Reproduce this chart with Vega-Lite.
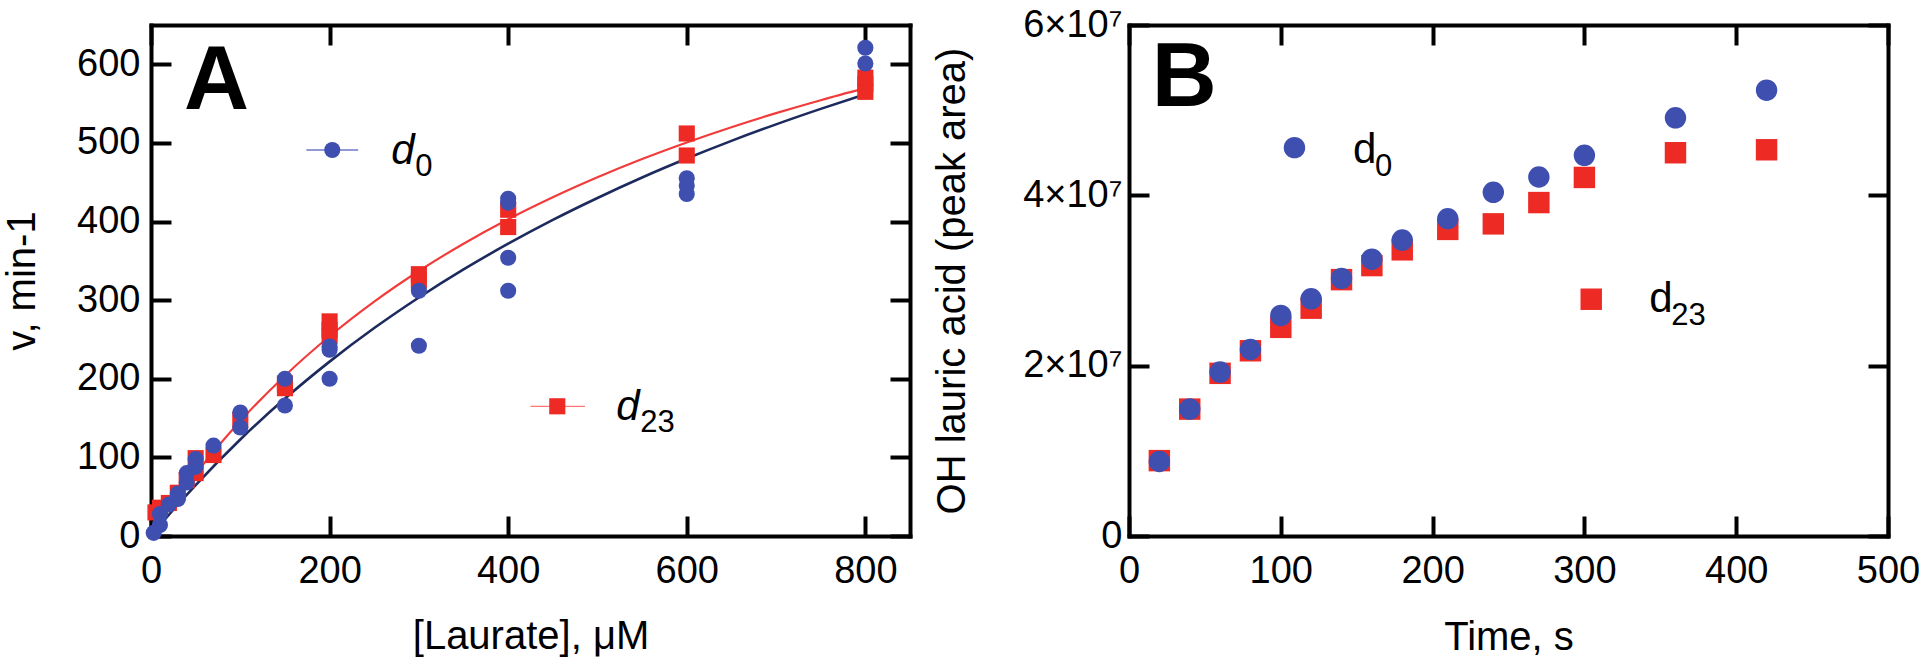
{
  "$schema": "https://vega.github.io/schema/vega-lite/v6.json",
  "padding": {"left": 2, "top": 6, "right": 0, "bottom": 0},
  "background": "white",
  "config": {
    "view": {"stroke": null},
    "font": "Liberation Sans",
    "axis": {
      "domainColor": "black", "domainWidth": 4, "domainCap": "square",
      "tickColor": "black", "tickWidth": 4, "tickSize": -20,
      "grid": false, "labelFont": "Liberation Sans", "labelFontSize": 38, "labelColor": "black",
      "labelFlush": false, "labelOverlap": false,
      "titleFont": "Liberation Sans", "titleFontSize": 40, "titleFontWeight": "normal", "titleColor": "black"
    }
  },
  "datasets": {
    "ptsA": [
      {"x": 5, "v": 30, "series": "d23"}, {"x": 10, "v": 36, "series": "d23"}, {"x": 20, "v": 42, "series": "d23"},
      {"x": 30, "v": 55, "series": "d23"}, {"x": 40, "v": 71, "series": "d23"}, {"x": 50, "v": 80, "series": "d23"},
      {"x": 50, "v": 99, "series": "d23"}, {"x": 70, "v": 103, "series": "d23"}, {"x": 100, "v": 148, "series": "d23"},
      {"x": 150, "v": 188, "series": "d23"}, {"x": 150, "v": 194, "series": "d23"}, {"x": 200, "v": 254, "series": "d23"},
      {"x": 200, "v": 262, "series": "d23"}, {"x": 200, "v": 273, "series": "d23"}, {"x": 300, "v": 325, "series": "d23"},
      {"x": 300, "v": 333, "series": "d23"}, {"x": 400, "v": 393, "series": "d23"}, {"x": 400, "v": 415, "series": "d23"},
      {"x": 600, "v": 484, "series": "d23"}, {"x": 600, "v": 512, "series": "d23"}, {"x": 800, "v": 565, "series": "d23"},
      {"x": 800, "v": 575, "series": "d23"}, {"x": 800, "v": 583, "series": "d23"},
      {"x": 3, "v": 4, "series": "d0"}, {"x": 10, "v": 14, "series": "d0"}, {"x": 10, "v": 28, "series": "d0"},
      {"x": 20, "v": 40, "series": "d0"}, {"x": 30, "v": 47, "series": "d0"}, {"x": 30, "v": 54, "series": "d0"},
      {"x": 40, "v": 68, "series": "d0"}, {"x": 40, "v": 80, "series": "d0"}, {"x": 50, "v": 88, "series": "d0"},
      {"x": 50, "v": 98, "series": "d0"}, {"x": 70, "v": 115, "series": "d0"}, {"x": 100, "v": 138, "series": "d0"},
      {"x": 100, "v": 157, "series": "d0"}, {"x": 150, "v": 166, "series": "d0"}, {"x": 150, "v": 200, "series": "d0"},
      {"x": 200, "v": 200, "series": "d0"}, {"x": 200, "v": 237, "series": "d0"}, {"x": 200, "v": 241, "series": "d0"},
      {"x": 300, "v": 242, "series": "d0"}, {"x": 300, "v": 312, "series": "d0"}, {"x": 400, "v": 312, "series": "d0"},
      {"x": 400, "v": 354, "series": "d0"}, {"x": 400, "v": 424, "series": "d0"}, {"x": 400, "v": 429, "series": "d0"},
      {"x": 600, "v": 435, "series": "d0"}, {"x": 600, "v": 446, "series": "d0"}, {"x": 600, "v": 455, "series": "d0"},
      {"x": 800, "v": 601, "series": "d0"}, {"x": 800, "v": 621, "series": "d0"}
    ],
    "curveA": [
      {"x": 0, "v": 0, "series": "d0"}, {"x": 25, "v": 33.4, "series": "d0"}, {"x": 50, "v": 64.8, "series": "d0"},
      {"x": 100, "v": 122.8, "series": "d0"}, {"x": 150, "v": 174.8, "series": "d0"}, {"x": 200, "v": 221.8, "series": "d0"},
      {"x": 250, "v": 264.5, "series": "d0"}, {"x": 300, "v": 303.4, "series": "d0"}, {"x": 350, "v": 339.1, "series": "d0"},
      {"x": 400, "v": 371.8, "series": "d0"}, {"x": 450, "v": 402.1, "series": "d0"}, {"x": 500, "v": 430.0, "series": "d0"},
      {"x": 550, "v": 456.0, "series": "d0"}, {"x": 600, "v": 480.1, "series": "d0"}, {"x": 650, "v": 502.6, "series": "d0"},
      {"x": 700, "v": 523.6, "series": "d0"}, {"x": 750, "v": 543.3, "series": "d0"}, {"x": 800, "v": 561.9, "series": "d0"},
      {"x": 0, "v": 0, "series": "d23"}, {"x": 25, "v": 41.2, "series": "d23"}, {"x": 50, "v": 79.0, "series": "d23"},
      {"x": 100, "v": 146.2, "series": "d23"}, {"x": 150, "v": 203.9, "series": "d23"}, {"x": 200, "v": 254.1, "series": "d23"},
      {"x": 250, "v": 298.2, "series": "d23"}, {"x": 300, "v": 337.1, "series": "d23"}, {"x": 350, "v": 371.8, "series": "d23"},
      {"x": 400, "v": 402.9, "series": "d23"}, {"x": 450, "v": 430.9, "series": "d23"}, {"x": 500, "v": 456.3, "series": "d23"},
      {"x": 550, "v": 479.5, "series": "d23"}, {"x": 600, "v": 500.6, "series": "d23"}, {"x": 650, "v": 520.0, "series": "d23"},
      {"x": 700, "v": 537.9, "series": "d23"}, {"x": 750, "v": 554.4, "series": "d23"}, {"x": 800, "v": 569.7, "series": "d23"}
    ],
    "legA": [
      {"series": "d0", "lseries": "L0", "lx1": 174, "lx2": 232, "mx": 203, "my": 491, "tx": 269, "ty": 473, "label": "d", "sub": "0"},
      {"series": "d23", "lseries": "L23", "lx1": 425, "lx2": 486, "mx": 455, "my": 165, "tx": 521, "ty": 147, "label": "d", "sub": "23"}
    ],
    "tagA": [{"x": 37, "v": 543, "label": "A"}],
    "ptsB": [
      {"t": 20, "y": 8850000, "series": "d23"}, {"t": 40, "y": 14900000, "series": "d23"}, {"t": 60, "y": 19100000, "series": "d23"},
      {"t": 80, "y": 21750000, "series": "d23"}, {"t": 100, "y": 24500000, "series": "d23"}, {"t": 120, "y": 26750000, "series": "d23"},
      {"t": 140, "y": 30100000, "series": "d23"}, {"t": 160, "y": 31750000, "series": "d23"}, {"t": 180, "y": 33600000, "series": "d23"},
      {"t": 210, "y": 36000000, "series": "d23"}, {"t": 240, "y": 36650000, "series": "d23"}, {"t": 270, "y": 39150000, "series": "d23"},
      {"t": 300, "y": 42100000, "series": "d23"}, {"t": 360, "y": 45000000, "series": "d23"}, {"t": 420, "y": 45350000, "series": "d23"},
      {"t": 20, "y": 8750000, "series": "d0"}, {"t": 40, "y": 14900000, "series": "d0"}, {"t": 60, "y": 19250000, "series": "d0"},
      {"t": 80, "y": 21900000, "series": "d0"}, {"t": 100, "y": 25900000, "series": "d0"}, {"t": 120, "y": 27850000, "series": "d0"},
      {"t": 140, "y": 30250000, "series": "d0"}, {"t": 160, "y": 32500000, "series": "d0"}, {"t": 180, "y": 34750000, "series": "d0"},
      {"t": 210, "y": 37250000, "series": "d0"}, {"t": 240, "y": 40350000, "series": "d0"}, {"t": 270, "y": 42150000, "series": "d0"},
      {"t": 300, "y": 44700000, "series": "d0"}, {"t": 360, "y": 49100000, "series": "d0"}, {"t": 420, "y": 52350000, "series": "d0"}
    ],
    "legB": [
      {"series": "d0", "mx": 109, "my": 45600000, "tx": 147.6, "ty": 43800000, "label": "d", "sub": "0"},
      {"series": "d23", "mx": 304.5, "my": 27800000, "tx": 342.7, "ty": 26300000, "label": "d", "sub": "23"}
    ],
    "tagB": [{"t": 15, "y": 50500000, "label": "B"}]
  },
  "hconcat": [
    {
      "width": 759,
      "height": 511,
      "layer": [
        {
          "data": {"name": "curveA"},
          "mark": {"type": "line", "interpolate": "monotone"},
          "encoding": {
            "x": {"field": "x", "type": "quantitative", "scale": {"domain": [0, 850], "nice": false, "zero": false},
                  "axis": {"orient": "bottom", "title": "[Laurate], μM", "values": [0, 200, 400, 600, 800], "labelPadding": 36, "titlePadding": 26}},
            "y": {"field": "v", "type": "quantitative", "scale": {"domain": [0, 650], "nice": false},
                  "axis": {"orient": "left", "title": "v, min-1", "values": [0, 100, 200, 300, 400, 500, 600], "labelPadding": 31, "titlePadding": 34}},
            "stroke": {"field": "series", "type": "nominal", "scale": {"domain": ["d0", "d23", "L0", "L23"], "range": ["#1D2A5E", "#F23B3B", "#6D79C9", "#FF7777"]}, "legend": null},
            "strokeWidth": {"field": "series", "type": "nominal", "scale": {"domain": ["d0", "d23", "L0", "L23"], "range": [2.6, 1.2, 2, 2]}, "legend": null}
          }
        },
        {
          "data": {"name": "ptsA"},
          "mark": {"type": "point", "filled": true, "opacity": 1, "size": 260},
          "encoding": {
            "x": {"field": "x", "type": "quantitative", "axis": null},
            "y": {"field": "v", "type": "quantitative", "axis": null},
            "fill": {"field": "series", "type": "nominal", "scale": {"domain": ["d0", "d23"], "range": ["#3F4FB0", "#EE2A25"]}, "legend": null},
            "shape": {"field": "series", "type": "nominal", "scale": {"domain": ["d0", "d23"], "range": ["circle", "square"]}, "legend": null}
          }
        },
        {
          "data": {"name": "legA"},
          "mark": {"type": "rule"},
          "encoding": {
            "x": {"field": "lx1", "type": "quantitative", "axis": null},
            "x2": {"field": "lx2"},
            "y": {"field": "my", "type": "quantitative", "axis": null},
            "stroke": {"field": "lseries", "type": "nominal", "legend": null},
            "strokeWidth": {"field": "lseries", "type": "nominal", "legend": null}
          }
        },
        {
          "data": {"name": "legA"},
          "mark": {"type": "point", "filled": true, "opacity": 1, "size": 260},
          "encoding": {
            "x": {"field": "mx", "type": "quantitative", "axis": null},
            "y": {"field": "my", "type": "quantitative", "axis": null},
            "fill": {"field": "series", "type": "nominal", "legend": null},
            "shape": {"field": "series", "type": "nominal", "legend": null}
          }
        },
        {
          "data": {"name": "legA"},
          "mark": {"type": "text", "align": "left", "baseline": "alphabetic", "fontSize": 42, "fontStyle": "italic", "font": "Liberation Sans", "color": "black"},
          "encoding": {
            "x": {"field": "tx", "type": "quantitative", "axis": null},
            "y": {"field": "ty", "type": "quantitative", "axis": null},
            "text": {"field": "label"}
          }
        },
        {
          "data": {"name": "legA"},
          "mark": {"type": "text", "align": "left", "baseline": "alphabetic", "fontSize": 31, "font": "Liberation Sans", "color": "black", "dx": 24, "dy": 12},
          "encoding": {
            "x": {"field": "tx", "type": "quantitative", "axis": null},
            "y": {"field": "ty", "type": "quantitative", "axis": null},
            "text": {"field": "sub"}
          }
        },
        {
          "data": {"name": "tagA"},
          "mark": {"type": "text", "align": "left", "baseline": "alphabetic", "fontSize": 90, "fontWeight": "bold", "font": "Liberation Sans", "color": "black"},
          "encoding": {
            "x": {"field": "x", "type": "quantitative", "axis": null},
            "y": {"field": "v", "type": "quantitative", "axis": null},
            "text": {"field": "label"}
          }
        },
        {
          "data": {"name": "curveA"},
          "mark": {"type": "point", "opacity": 0},
          "encoding": {
            "x": {"field": "x", "type": "quantitative", "axis": {"orient": "top", "labels": false, "title": null, "values": [0, 200, 400, 600, 800]}},
            "y": {"field": "v", "type": "quantitative", "axis": {"orient": "right", "labels": false, "title": null, "values": [0, 100, 200, 300, 400, 500, 600]}}
          }
        }
      ],
      "resolve": {"axis": {"x": "independent", "y": "independent"}}
    },
    {
      "width": 759,
      "height": 511,
      "layer": [
        {
          "data": {"name": "ptsB"},
          "mark": {"type": "point", "filled": true, "opacity": 1, "size": 460},
          "encoding": {
            "x": {"field": "t", "type": "quantitative", "scale": {"domain": [0, 500], "nice": false, "zero": false},
                  "axis": {"orient": "bottom", "title": "Time, s", "values": [0, 100, 200, 300, 400, 500], "labelPadding": 36, "titlePadding": 27}},
            "y": {"field": "y", "type": "quantitative", "scale": {"domain": [0, 60000000], "nice": false},
                  "axis": {"orient": "left", "title": "OH lauric acid (peak area)", "values": [0, 20000000, 40000000, 60000000], "labelPadding": 27, "titlePadding": 50,
                           "labelExpr": "datum.value === 0 ? '0' : format(datum.value / 10000000, 'd') + '×10⁷'"}},
            "fill": {"field": "series", "type": "nominal", "scale": {"domain": ["d0", "d23"], "range": ["#3F4FB0", "#EE2A25"]}, "legend": null},
            "shape": {"field": "series", "type": "nominal", "scale": {"domain": ["d0", "d23"], "range": ["circle", "square"]}, "legend": null}
          }
        },
        {
          "data": {"name": "legB"},
          "mark": {"type": "point", "filled": true, "opacity": 1, "size": 460},
          "encoding": {
            "x": {"field": "mx", "type": "quantitative", "axis": null},
            "y": {"field": "my", "type": "quantitative", "axis": null},
            "fill": {"field": "series", "type": "nominal", "legend": null},
            "shape": {"field": "series", "type": "nominal", "legend": null}
          }
        },
        {
          "data": {"name": "legB"},
          "mark": {"type": "text", "align": "left", "baseline": "alphabetic", "fontSize": 42, "font": "Liberation Sans", "color": "black"},
          "encoding": {
            "x": {"field": "tx", "type": "quantitative", "axis": null},
            "y": {"field": "ty", "type": "quantitative", "axis": null},
            "text": {"field": "label"}
          }
        },
        {
          "data": {"name": "legB"},
          "mark": {"type": "text", "align": "left", "baseline": "alphabetic", "fontSize": 31, "font": "Liberation Sans", "color": "black", "dx": 22, "dy": 13},
          "encoding": {
            "x": {"field": "tx", "type": "quantitative", "axis": null},
            "y": {"field": "ty", "type": "quantitative", "axis": null},
            "text": {"field": "sub"}
          }
        },
        {
          "data": {"name": "tagB"},
          "mark": {"type": "text", "align": "left", "baseline": "alphabetic", "fontSize": 90, "fontWeight": "bold", "font": "Liberation Sans", "color": "black"},
          "encoding": {
            "x": {"field": "t", "type": "quantitative", "axis": null},
            "y": {"field": "y", "type": "quantitative", "axis": null},
            "text": {"field": "label"}
          }
        },
        {
          "data": {"name": "ptsB"},
          "mark": {"type": "point", "opacity": 0},
          "encoding": {
            "x": {"field": "t", "type": "quantitative", "axis": {"orient": "top", "labels": false, "title": null, "values": [0, 100, 200, 300, 400, 500]}},
            "y": {"field": "y", "type": "quantitative", "axis": {"orient": "right", "labels": false, "title": null, "values": [0, 20000000, 40000000, 60000000]}}
          }
        }
      ],
      "resolve": {"axis": {"x": "independent", "y": "independent"}}
    }
  ],
  "spacing": 20
}
